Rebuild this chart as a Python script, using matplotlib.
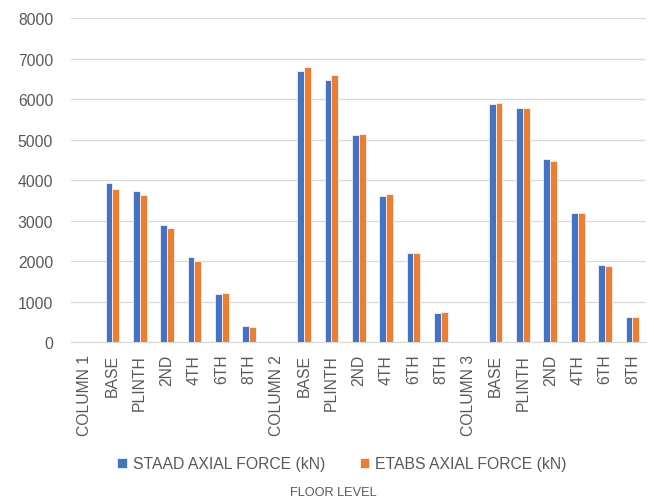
import matplotlib
matplotlib.use("Agg")
import matplotlib.pyplot as plt
import numpy as np

# floor levels, grouped under the three columns (header slots carry no bar)
categories = ["COLUMN 1", "BASE", "PLINTH", "2ND", "4TH", "6TH", "8TH",
              "COLUMN 2", "BASE", "PLINTH", "2ND", "4TH", "6TH", "8TH",
              "COLUMN 3", "BASE", "PLINTH", "2ND", "4TH", "6TH", "8TH"]

staad_force = [np.nan, 3920, 3725, 2880, 2095, 1190, 405,
               np.nan, 6695, 6480, 5105, 3605, 2195, 725,
               np.nan, 5880, 5790, 4510, 3190, 1910, 630]

etabs_force = [np.nan, 3790, 3625, 2820, 2005, 1220, 380,
               np.nan, 6785, 6595, 5130, 3660, 2195, 750,
               np.nan, 5910, 5790, 4470, 3190, 1880, 630]

y_ticks = [0, 1000, 2000, 3000, 4000, 5000, 6000, 7000, 8000]

BLUE = "#4472C4"
ORANGE = "#ED7D31"
GRID = "#D9D9D9"
TEXT = "#595959"

plt.rcParams["font.family"] = ["Liberation Sans", "DejaVu Sans"]

fig = plt.figure(figsize=(6.54, 5.02), dpi=100)
ax = fig.add_axes([0.109, 0.3167, 0.879, 0.645])

x = np.arange(len(categories))
w = 0.25
ax.bar(x - w / 2, staad_force, width=w, color=BLUE, edgecolor="white",
       linewidth=0.5, label="STAAD AXIAL FORCE (kN)", zorder=3)
ax.bar(x + w / 2, etabs_force, width=w, color=ORANGE, edgecolor="white",
       linewidth=0.5, label="ETABS AXIAL FORCE (kN)", zorder=3)

ax.set_xlim(-0.5, len(categories) - 0.5)
ax.set_ylim(0, 8000)
ax.set_yticks(y_ticks)
ax.set_yticklabels([str(t) for t in y_ticks])
ax.set_xticks(x)
ax.set_xticklabels(categories, rotation=90, va="top", ha="center")

ax.grid(axis="y", color=GRID, linewidth=0.9, zorder=0)
for side in ["top", "right", "left"]:
    ax.spines[side].set_visible(False)
ax.spines["bottom"].set_color(GRID)
ax.spines["bottom"].set_linewidth(0.9)

ax.tick_params(axis="y", length=0, pad=13, labelsize=11.3, labelcolor=TEXT)
ax.tick_params(axis="x", length=0, pad=8.5, labelsize=11.3, labelcolor=TEXT)

leg = fig.legend(loc="center", bbox_to_anchor=(0.523, 0.074), ncol=2,
                 frameon=False, fontsize=11.3, handlelength=0.6,
                 handleheight=0.6, handletextpad=0.4, columnspacing=2.2)
for t in leg.get_texts():
    t.set_color(TEXT)

fig.text(0.51, 0.018, "FLOOR LEVEL", ha="center", va="center",
         fontsize=9.2, color=TEXT)

fig.savefig("out.png", dpi=100)
